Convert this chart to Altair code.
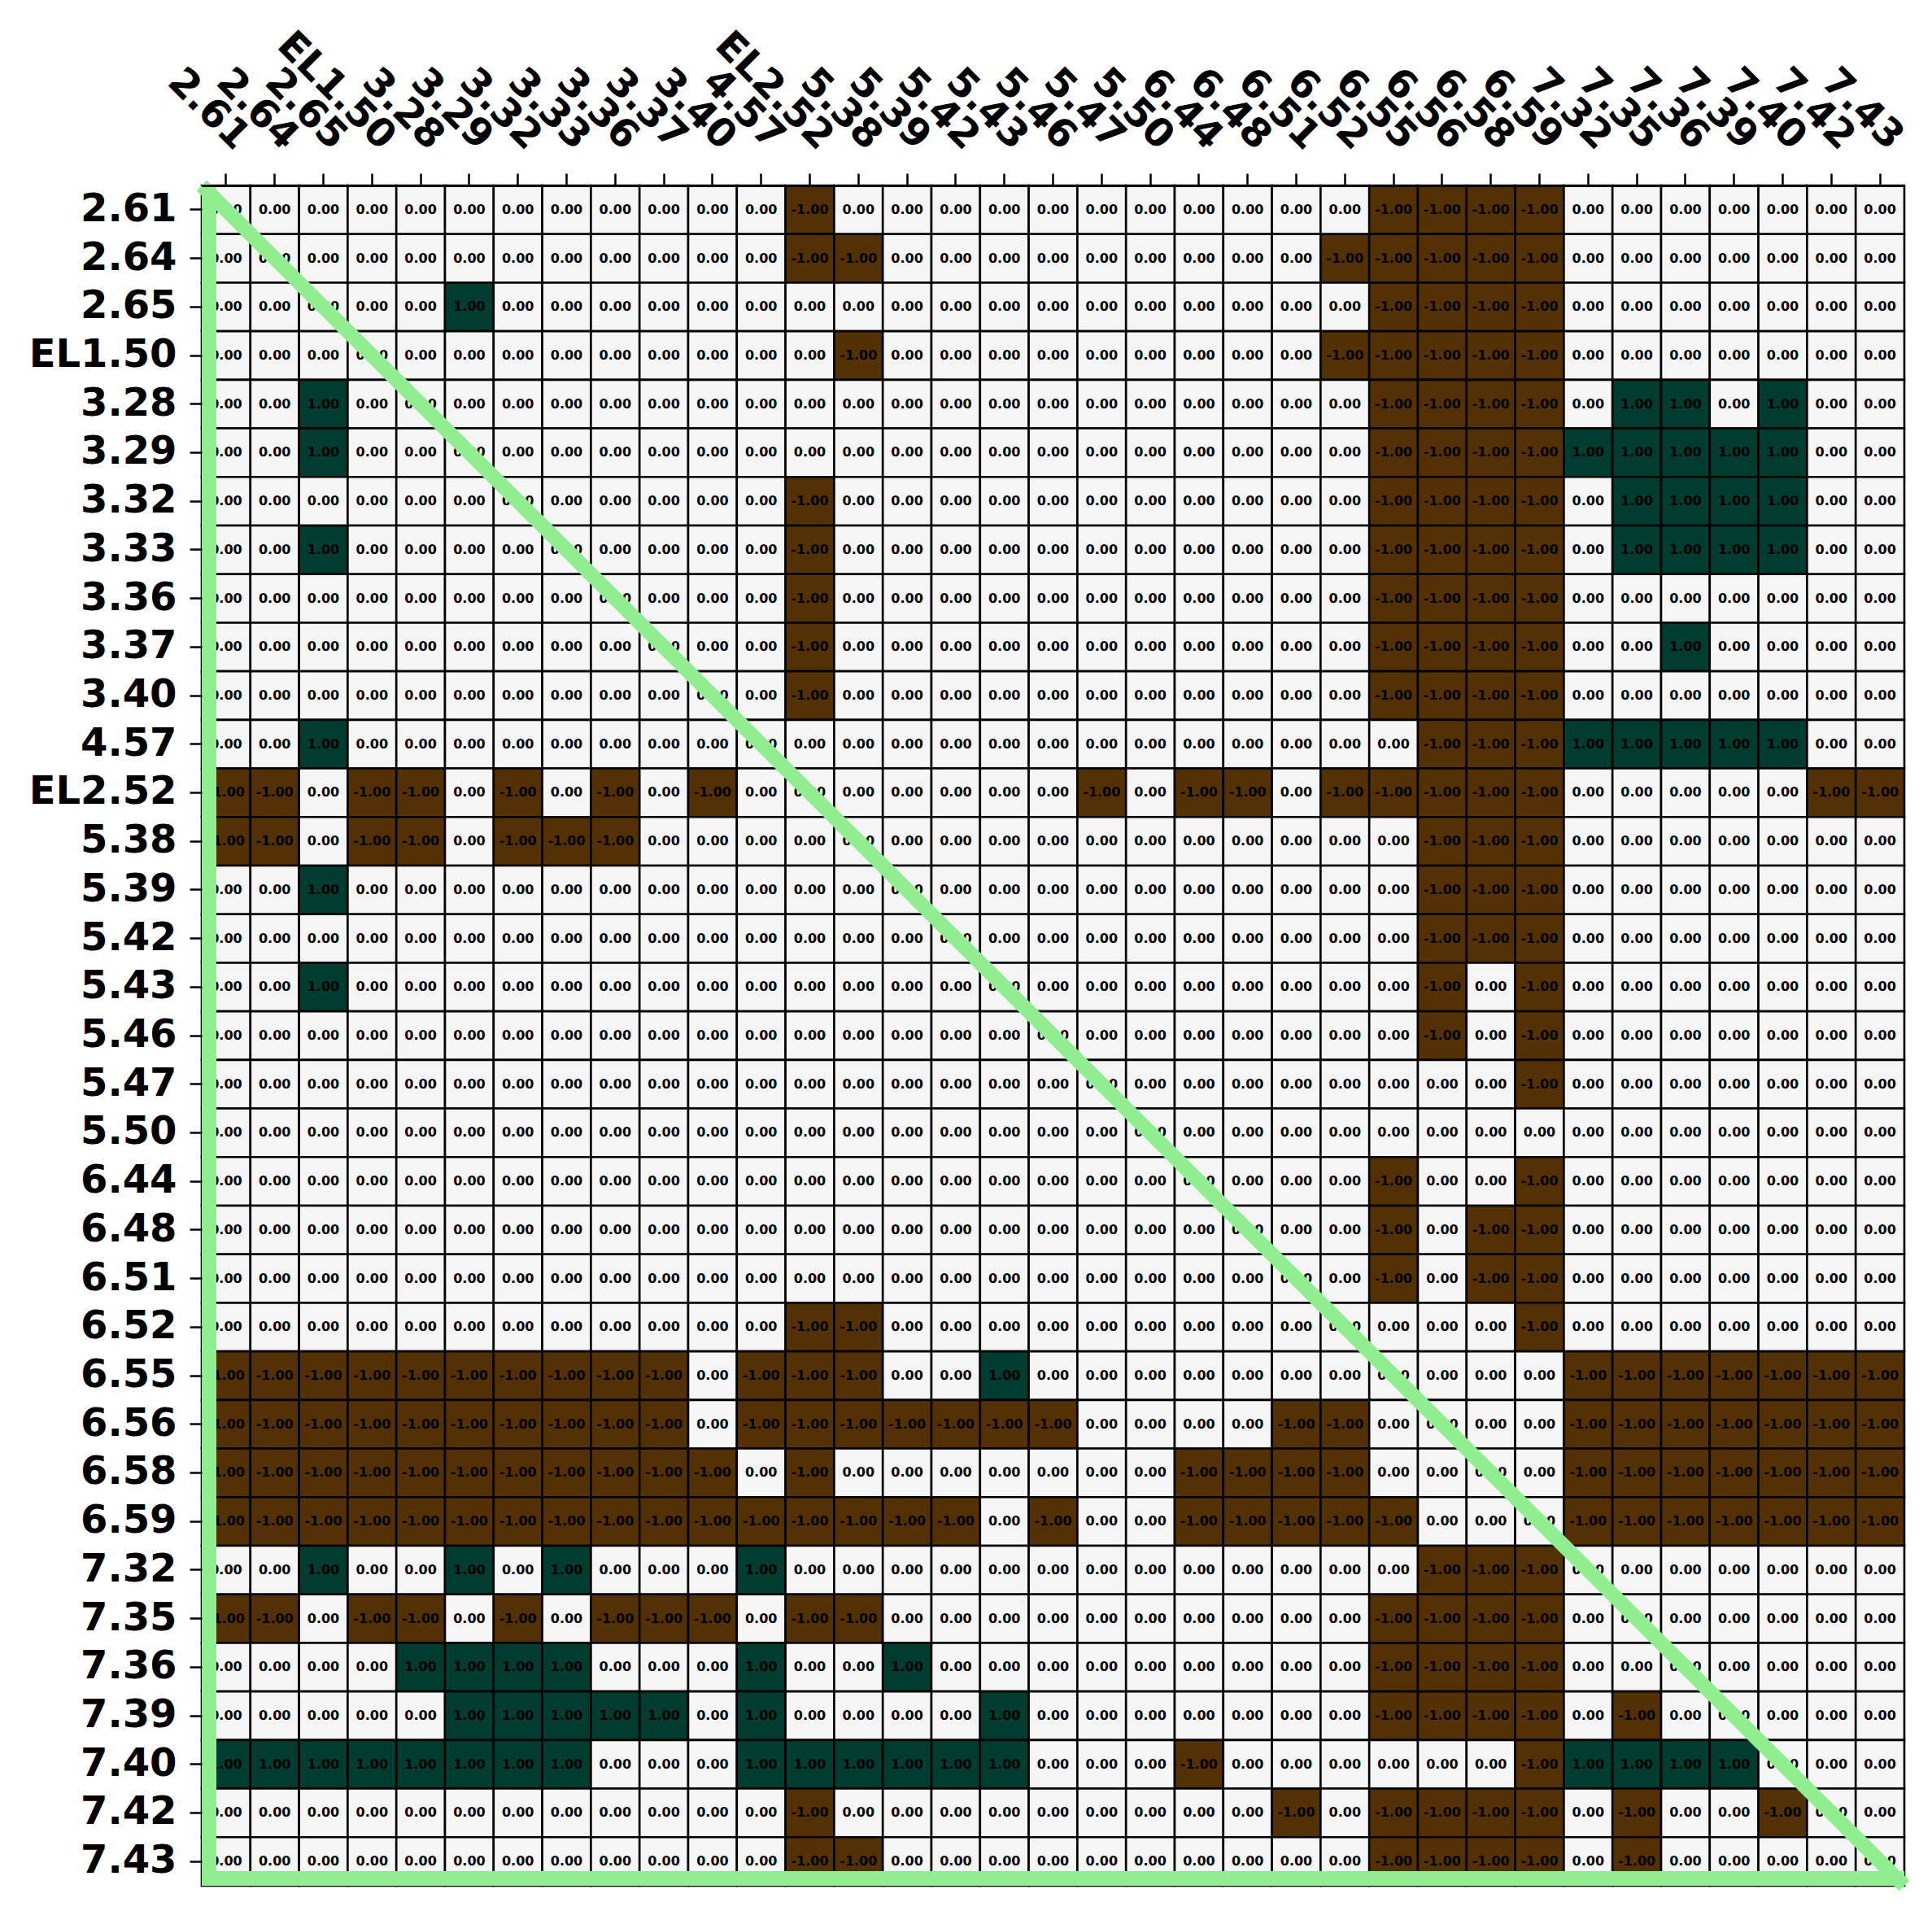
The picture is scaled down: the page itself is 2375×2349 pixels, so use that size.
import altair as alt
import pandas as pd

labels = ["2.61", "2.64", "2.65", "EL1.50", "3.28", "3.29", "3.32", "3.33", "3.36",
          "3.37", "3.40", "4.57", "EL2.52", "5.38", "5.39", "5.42", "5.43", "5.46",
          "5.47", "5.50", "6.44", "6.48", "6.51", "6.52", "6.55", "6.56", "6.58",
          "6.59", "7.32", "7.35", "7.36", "7.39", "7.40", "7.42", "7.43"]

# one string per row, one character per column: '-' = -1, '0' = 0, '+' = 1
rows = [
    "00000" "00000" "00-00" "00000" "0000-" "---00" "00000",  # 2.61
    "00000" "00000" "00--0" "00000" "000--" "---00" "00000",  # 2.64
    "00000" "+0000" "00000" "00000" "0000-" "---00" "00000",  # 2.65
    "00000" "00000" "000-0" "00000" "000--" "---00" "00000",  # EL1.50
    "00+00" "00000" "00000" "00000" "0000-" "---0+" "+0+00",  # 3.28
    "00+00" "00000" "00000" "00000" "0000-" "---++" "+++00",  # 3.29
    "00000" "00000" "00-00" "00000" "0000-" "---0+" "+++00",  # 3.32
    "00+00" "00000" "00-00" "00000" "0000-" "---0+" "+++00",  # 3.33
    "00000" "00000" "00-00" "00000" "0000-" "---00" "00000",  # 3.36
    "00000" "00000" "00-00" "00000" "0000-" "---00" "+0000",  # 3.37
    "00000" "00000" "00-00" "00000" "0000-" "---00" "00000",  # 3.40
    "00+00" "00000" "00000" "00000" "00000" "---++" "+++00",  # 4.57
    "--0--" "0-0-0" "-0000" "000-0" "--0--" "---00" "000--",  # EL2.52
    "--0--" "0---0" "00000" "00000" "00000" "---00" "00000",  # 5.38
    "00+00" "00000" "00000" "00000" "00000" "---00" "00000",  # 5.39
    "00000" "00000" "00000" "00000" "00000" "---00" "00000",  # 5.42
    "00+00" "00000" "00000" "00000" "00000" "-0-00" "00000",  # 5.43
    "00000" "00000" "00000" "00000" "00000" "-0-00" "00000",  # 5.46
    "00000" "00000" "00000" "00000" "00000" "00-00" "00000",  # 5.47
    "00000" "00000" "00000" "00000" "00000" "00000" "00000",  # 5.50
    "00000" "00000" "00000" "00000" "0000-" "00-00" "00000",  # 6.44
    "00000" "00000" "00000" "00000" "0000-" "0--00" "00000",  # 6.48
    "00000" "00000" "00000" "00000" "0000-" "0--00" "00000",  # 6.51
    "00000" "00000" "00--0" "00000" "00000" "00-00" "00000",  # 6.52
    "-----" "-----" "0---0" "0+000" "00000" "000--" "-----",  # 6.55
    "-----" "-----" "0----" "---00" "00--0" "000--" "-----",  # 6.56
    "-----" "-----" "-0-00" "00000" "----0" "000--" "-----",  # 6.58
    "-----" "-----" "-----" "-0-00" "-----" "000--" "-----",  # 6.59
    "00+00" "+0+00" "0+000" "00000" "00000" "---00" "00000",  # 7.32
    "--0--" "0-0--" "-0--0" "00000" "0000-" "---00" "00000",  # 7.35
    "0000+" "+++00" "0+00+" "00000" "0000-" "---00" "00000",  # 7.36
    "00000" "+++++" "0+000" "0+000" "0000-" "---0-" "00000",  # 7.39
    "+++++" "+++00" "0++++" "++000" "-0000" "00-++" "++000",  # 7.40
    "00000" "00000" "00-00" "00000" "00-0-" "---0-" "00-00",  # 7.42
    "00000" "00000" "00--0" "00000" "0000-" "---0-" "00000",  # 7.43
]

code = {"-": -1, "0": 0, "+": 1}
records = []
for i, r in enumerate(rows):
    for j, ch in enumerate(r):
        v = code[ch]
        records.append({"row": labels[i], "col": labels[j], "value": v,
                        "text": f"{v:.2f}"})
df = pd.DataFrame(records)

W, H = 2093, 2090
FONT = "DejaVu Sans"
GREEN = "#90ee90"
LW = 18

x_enc = alt.X("col:N", sort=labels,
              scale=alt.Scale(paddingInner=0, paddingOuter=0),
              axis=alt.Axis(orient="top", title=None, labelAngle=45,
                            labelAlign="right", labelBaseline="middle",
                            labelFont=FONT, labelFontWeight="bold",
                            labelFontSize=48, labelColor="black",
                            labelPadding=37, labelOffset=20, labelLimit=0,
                            tickSize=15, tickWidth=2.5, tickColor="black",
                            domainColor="black", domainWidth=3,
                            labelOverlap=False, grid=False))
y_enc = alt.Y("row:N", sort=labels,
              scale=alt.Scale(paddingInner=0, paddingOuter=0),
              axis=alt.Axis(orient="left", title=None, labelFont=FONT,
                            labelFontWeight="bold", labelFontSize=48,
                            labelColor="black", labelPadding=16, labelLimit=0,
                            tickSize=15, tickWidth=2.5, tickColor="black",
                            domain=False, labelOverlap=False, grid=False))

base = alt.Chart(df).encode(x=x_enc, y=y_enc)

cells = base.mark_rect(stroke="black", strokeWidth=2.6).encode(
    color=alt.Color("value:Q",
                    scale=alt.Scale(domain=[-1, 0, 1],
                                    range=["#543005", "#f5f5f5", "#003c30"]),
                    legend=None)
)
texts = base.mark_text(font=FONT, fontWeight="bold", fontSize=16,
                       color="black").encode(text="text:N")

one = alt.Chart(pd.DataFrame({"k": [0]}))
left_line = one.mark_rule(color=GREEN, strokeWidth=LW, clip=False).encode(
    x=alt.value(LW / 2), y=alt.value(0), y2=alt.value(H))
bottom_line = one.mark_rule(color=GREEN, strokeWidth=LW, clip=False).encode(
    x=alt.value(0), x2=alt.value(W), y=alt.value(H - LW / 2))
diag_line = one.mark_rule(color=GREEN, strokeWidth=LW, clip=False).encode(
    x=alt.value(0), y=alt.value(0), x2=alt.value(W), y2=alt.value(H))

chart = alt.layer(cells, texts, left_line, bottom_line, diag_line).properties(
    width=W, height=H,
    autosize=alt.AutoSizeParams(type="none"),
    padding={"left": 248, "top": 228, "right": 34, "bottom": 31},
    background="white",
).configure_view(stroke=None)

chart.save("out.html", embed_options={"renderer": "svg", "actions": False})
